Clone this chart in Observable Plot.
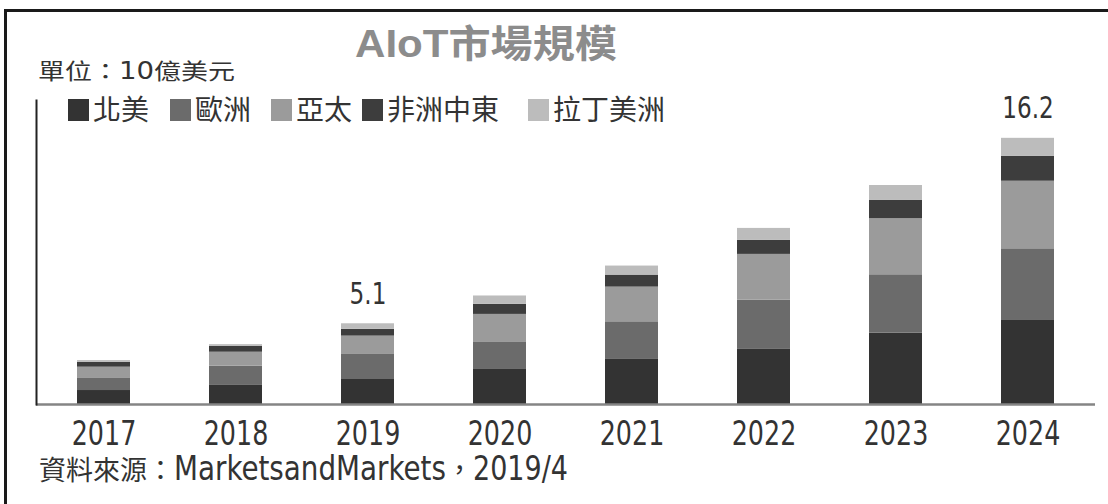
<!DOCTYPE html>
<html>
<head>
<meta charset="utf-8">
<script src="https://cdn.jsdelivr.net/npm/d3@7"></script>
<script src="https://cdn.jsdelivr.net/npm/@observablehq/plot@0.6"></script>
<style>
  html, body { margin: 0; padding: 0; background: #fff; }
  #wrap { position: relative; width: 1108px; height: 504px; overflow: hidden; background: #fff; }
  #border { position: absolute; left: 4px; top: 9px; width: 1120px; height: 520px;
            border-top: 3px solid #1a1a1a; border-left: 3px solid #1a1a1a; box-sizing: border-box; pointer-events: none; }
  #chart { position: absolute; left: 0; top: 0; }
</style>
</head>
<body>
<div id="wrap"><div id="chart"></div><div id="border"></div></div>
<script>
// ---- data (values in 10億美元) ----
const years = ["2017", "2018", "2019", "2020", "2021", "2022", "2023", "2024"];
const regions = ["北美", "歐洲", "亞太", "非洲中東", "拉丁美洲"];
const northAmerica     = [0.85, 1.16, 1.52, 2.13, 2.74, 3.35, 4.34, 5.11];
const europe           = [0.77, 1.17, 1.56, 1.68, 2.29, 3.00, 3.55, 4.36];
const asiaPacific      = [0.65, 0.85, 1.08, 1.67, 2.11, 2.78, 3.41, 4.11];
const middleEastAfrica = [0.30, 0.36, 0.41, 0.61, 0.73, 0.85, 1.11, 1.52];
const latinAmerica     = [0.10, 0.10, 0.34, 0.51, 0.55, 0.73, 0.91, 1.09];
const labelYears = ["2019", "2024"];
const labelTexts = ["5.1", "16.2"];
const titleText = "AIoT市場規模";
const unitText = ["單位：", "10", "億美元"];
const sourceText = ["資料來源：", "MarketsandMarkets", "，", "2019/4"];

// ---- styles ----
const colors = ["#333333", "#6b6b6b", "#9b9b9b", "#3d3d3d", "#bcbcbc"];
const CJK = "'Noto Sans CJK TC', 'Noto Sans CJK SC', sans-serif";
const NARROW = "'Liberation Sans Narrow', 'DejaVu Sans Condensed', 'Liberation Sans', sans-serif";
const CONDENSE = 0.83;

const seriesValues = [northAmerica, europe, asiaPacific, middleEastAfrica, latinAmerica];
const rows = [];
regions.forEach((r, i) => years.forEach((y, j) => rows.push({year: y, region: r, value: seriesValues[i][j]})));
const totals = years.map((y, j) => d3.sum(seriesValues, s => s[j]));
const labels = labelYears.map((y, i) => ({year: y, text: labelTexts[i], total: totals[years.indexOf(y)]}));

const svg = Plot.plot({
  width: 1108,
  height: 504,
  marginLeft: 36,
  marginRight: 13,
  marginTop: 100,
  marginBottom: 100,
  style: {fontFamily: NARROW, fontSize: "34px", color: "#333", background: "transparent"},
  x: {domain: years, paddingInner: 0.6, paddingOuter: 0.282, label: null},
  y: {domain: [0, 18.49], axis: null},
  color: {domain: regions, range: colors},
  marks: [
    Plot.barY(rows, {x: "year", y: "value", fill: "region", order: regions}),
    Plot.ruleY([0], {stroke: "#858585", strokeWidth: 2.5}),
    Plot.frame({anchor: "left", stroke: "#222", strokeWidth: 2}),
    Plot.axisX({tickSize: 0, tickPadding: 16, fontSize: 34, fill: "#333", label: null}),
    Plot.text(labels, {x: "year", y: "total", text: "text", lineAnchor: "bottom", dy: -20,
                       fontSize: 31, fill: "#333", fontFamily: NARROW})
  ]
});
document.getElementById("chart").appendChild(svg);

// horizontally squeeze a text around its anchor x (by factor, or to a target width)
function squeeze(node, factor, target) {
  const w = node.getComputedTextLength();
  const s = target ? target / w : factor;
  const x = +(node.getAttribute("x") || 0);
  const t = node.getAttribute("transform") || "";
  node.setAttribute("transform", `${t} translate(${x},0) scale(${s.toFixed(4)},1) translate(${-x},0)`.trim());
}

// condense the Latin texts drawn by Plot (tick labels, value labels)
d3.select(svg).selectAll('g[aria-label="x-axis tick label"] text, g[aria-label="text"] text')
  .each(function () { squeeze(this, CONDENSE); });

// ---- title, unit, legend, source as real SVG text ----
const g = d3.select(svg).append("g").attr("text-anchor", "start");
const title = g.append("text").attr("x", 355).attr("y", 57)
  .attr("font-family", "'Liberation Sans', " + CJK).attr("font-weight", "bold")
  .attr("font-size", 38).attr("fill", "#8c8c8c").text(titleText);
squeeze(title.node(), null, 262);

const unit = g.append("text").attr("x", 38).attr("y", 79).attr("fill", "#333")
  .attr("font-family", CJK).attr("font-size", 22);
unit.append("tspan").text(unitText[0]);
unit.append("tspan").attr("font-family", NARROW).attr("font-size", 25).text(unitText[1]);
unit.append("tspan").text(unitText[2]);
squeeze(unit.node(), null, 197);

const legendLefts = [68, 170, 271, 362, 528];
regions.forEach((r, i) => {
  g.append("rect").attr("x", legendLefts[i]).attr("y", 99).attr("width", 21).attr("height", 22)
    .attr("fill", colors[i]);
  g.append("text").attr("x", legendLefts[i] + 25).attr("y", 120)
    .attr("font-family", CJK).attr("font-size", 28).attr("fill", "#333").text(r);
});

// source line: CJK pieces at 27px (full-width advance), Latin pieces condensed
const srcX = [39, 174, 446, 473];
const srcLen = [null, 272, null, 95];
sourceText.forEach((t, i) => {
  const latin = i % 2 === 1;
  const el = g.append("text").attr("x", srcX[i]).attr("y", 480).attr("fill", "#333")
    .attr("font-family", latin ? NARROW : CJK).attr("font-size", latin ? 34 : 27).text(t);
  if (srcLen[i]) squeeze(el.node(), null, srcLen[i]);
});
</script>
</body>
</html>
